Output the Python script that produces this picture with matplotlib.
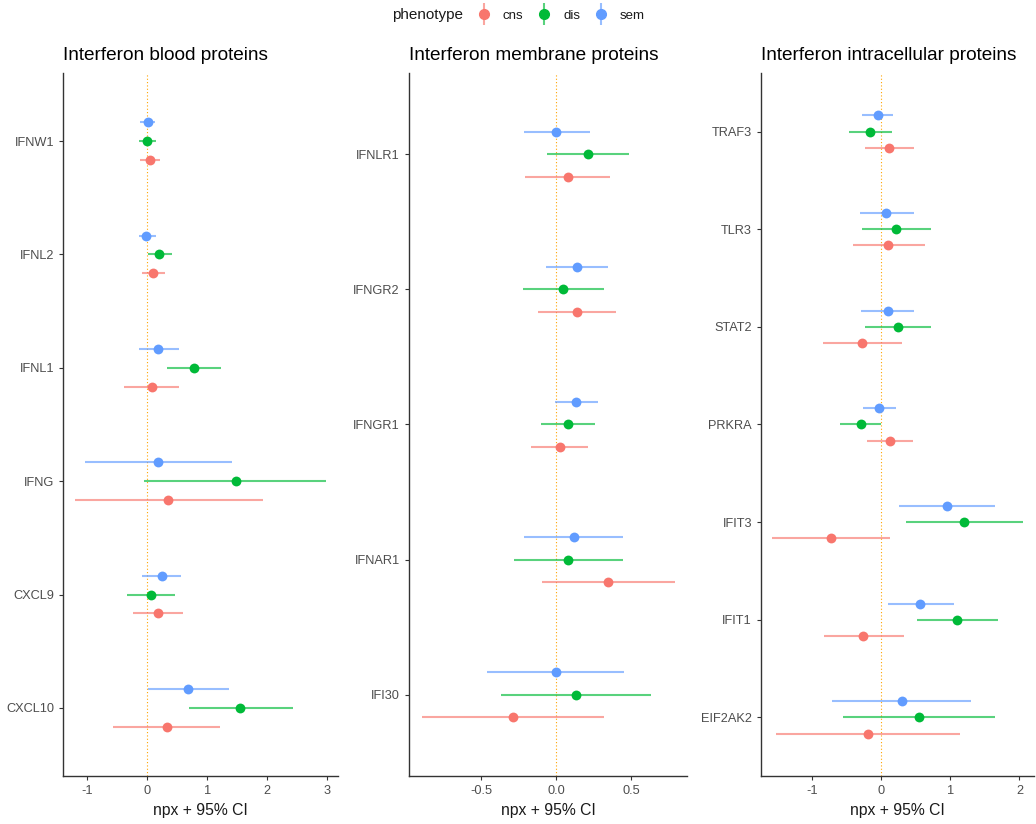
import numpy as np
import matplotlib
matplotlib.use("Agg")
import matplotlib.pyplot as plt
from matplotlib.lines import Line2D

plt.rcParams['font.family'] = ['Liberation Sans', 'DejaVu Sans']
plt.rcParams['axes.unicode_minus'] = False

# phenotype groups and ggplot default hue colours
phenotypes = ['cns', 'dis', 'sem']
colors = {'cns': '#F8766D', 'dis': '#00BA38', 'sem': '#619CFF'}

# panel 1 - blood proteins (top to bottom)
blood_proteins = ['IFNW1', 'IFNL2', 'IFNL1', 'IFNG', 'CXCL9', 'CXCL10']
blood_est = {'cns': [0.05, 0.10, 0.08, 0.35, 0.19, 0.33],
             'dis': [0.00, 0.195, 0.78, 1.48, 0.06, 1.545],
             'sem': [0.02, -0.01, 0.19, 0.19, 0.245, 0.69]}
blood_lo = {'cns': [-0.11, -0.09, -0.38, -1.20, -0.23, -0.57],
            'dis': [-0.14, 0.01, 0.33, -0.05, -0.34, 0.695],
            'sem': [-0.11, -0.14, -0.13, -1.04, -0.08, 0.01]}
blood_hi = {'cns': [0.22, 0.30, 0.54, 1.93, 0.60, 1.22],
            'dis': [0.15, 0.41, 1.23, 2.98, 0.46, 2.43],
            'sem': [0.13, 0.15, 0.54, 1.41, 0.57, 1.37]}

# panel 2 - membrane proteins
membrane_proteins = ['IFNLR1', 'IFNGR2', 'IFNGR1', 'IFNAR1', 'IFI30']
membrane_est = {'cns': [0.074, 0.139, 0.023, 0.346, -0.292],
                'dis': [0.208, 0.046, 0.074, 0.079, 0.130],
                'sem': [0.000, 0.139, 0.130, 0.119, -0.003]}
membrane_lo = {'cns': [-0.210, -0.126, -0.172, -0.099, -0.899],
               'dis': [-0.061, -0.226, -0.103, -0.283, -0.370],
               'sem': [-0.217, -0.068, -0.010, -0.219, -0.463]}
membrane_hi = {'cns': [0.359, 0.397, 0.210, 0.788, 0.317],
               'dis': [0.481, 0.317, 0.259, 0.443, 0.630],
               'sem': [0.223, 0.343, 0.274, 0.443, 0.452]}

# panel 3 - intracellular proteins
intra_proteins = ['TRAF3', 'TLR3', 'STAT2', 'PRKRA', 'IFIT3', 'IFIT1', 'EIF2AK2']
intra_est = {'cns': [0.120, 0.101, -0.270, 0.135, -0.718, -0.255, -0.188],
             'dis': [-0.159, 0.217, 0.246, -0.284, 1.204, 1.093, 0.554],
             'sem': [-0.048, 0.072, 0.101, -0.034, 0.954, 0.568, 0.303]}
intra_lo = {'cns': [-0.231, -0.405, -0.838, -0.202, -1.571, -0.828, -1.522],
            'dis': [-0.467, -0.280, -0.231, -0.588, 0.357, 0.525, -0.549],
            'sem': [-0.280, -0.308, -0.284, -0.265, 0.260, 0.096, -0.703]}
intra_hi = {'cns': [0.482, 0.636, 0.308, 0.458, 0.135, 0.337, 1.146],
            'dis': [0.154, 0.727, 0.727, 0.005, 2.057, 1.686, 1.652],
            'sem': [0.178, 0.482, 0.482, 0.217, 1.650, 1.050, 1.300]}

panels = [
    ("Interferon blood proteins", blood_proteins, blood_est, blood_lo, blood_hi, [-1, 0, 1, 2, 3], ['-1', '0', '1', '2', '3'], (-1.40, 3.18)),
    ("Interferon membrane proteins", membrane_proteins, membrane_est, membrane_lo, membrane_hi, [-0.5, 0, 0.5], ['-0.5', '0.0', '0.5'], (-0.983, 0.87)),
    ("Interferon intracellular proteins", intra_proteins, intra_est, intra_lo, intra_hi, [-1, 0, 1, 2], ['-1', '0', '1', '2'], (-1.734, 2.21)),
]

# dodge offsets (sem on top, cns at bottom)
dodge = {'cns': -1/6, 'dis': 0.0, 'sem': 1/6}

fig = plt.figure(figsize=(10.36, 8.24), dpi=100)
lefts = [63, 409, 761]
widths = [275, 278, 273]

for (title, prots, est, lo, hi, xt, xtl, xl), left, w in zip(panels, lefts, widths):
    ax = fig.add_axes([left/1036, 48/824, w/1036, 703/824])
    n = len(prots)
    ypos = np.arange(n)[::-1].astype(float)
    ax.axvline(0, color='#FFA500', lw=0.8, ls=(0, (1, 2)), zorder=1)
    for ph in phenotypes:
        yy = ypos + dodge[ph]
        ax.hlines(yy, lo[ph], hi[ph], color=colors[ph], lw=1.5, alpha=0.65, zorder=2)
        ax.scatter(est[ph], yy, s=50, color=colors[ph], zorder=3, linewidths=0)
    ax.set_yticks(ypos)
    ax.set_yticklabels(prots)
    ax.set_ylim(-0.6, n - 1 + 0.6)
    ax.set_xticks(xt)
    ax.set_xticklabels(xtl)
    ax.set_xlim(xl)
    ax.set_xlabel("npx + 95% CI", fontsize=11.3, color='#1a1a1a', labelpad=4)
    ax.set_title(title, loc='left', fontsize=13.7, color='black', pad=9)
    for s in ['top', 'right']:
        ax.spines[s].set_visible(False)
    for s in ['left', 'bottom']:
        ax.spines[s].set_color('#333333')
        ax.spines[s].set_linewidth(1.0)
    ax.tick_params(axis='both', colors='#333333', labelcolor='#4D4D4D', labelsize=9.2, length=3, width=0.8)

# legend along the top
fig.text(392/1036, 809/824, "phenotype", fontsize=11, color='#1a1a1a', va='center', ha='left')
handles = []
for ph in phenotypes:
    bar = Line2D([], [], marker='|', markersize=16, markeredgewidth=1.5, color=colors[ph], alpha=0.65, ls='none')
    dot = Line2D([], [], marker='o', markersize=7, color=colors[ph], ls='none')
    handles.append((bar, dot))
fig.legend(handles, phenotypes, ncol=3, loc='center left', bbox_to_anchor=(462/1036, 808/824),
           frameon=False, fontsize=9.5, handlelength=1.5, handletextpad=0.7, columnspacing=0.8,
           labelcolor='#1a1a1a')

fig.savefig("out.png", dpi=100)
